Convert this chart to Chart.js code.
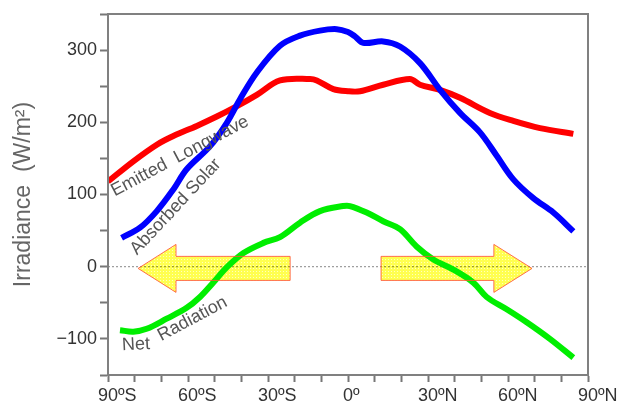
<!DOCTYPE html>
<html>
<head>
<meta charset="utf-8">
<script src="https://cdn.jsdelivr.net/npm/chart.js@4"></script>
<style>
  html, body { margin: 0; padding: 0; background: #fff; }
  #wrap { width: 619px; height: 405px; }
</style>
</head>
<body>
<div id="wrap"><canvas id="c" width="619" height="405"></canvas></div>
<script>
// ---- Data (latitude in degrees, negative = south; values in W/m²) ----
const latLongwave = [-90, -80.5, -71.7, -65.5, -56.7, -49.2, -41.8, -34.2, -25.5, -14.2, -11.7, -5.5, 0, 4.5, 13.2, 23.2, 27, 34.5, 42, 53.2, 62, 72, 84.5];
const valLongwave = [118, 146, 169, 181, 195, 208, 222, 238, 258, 260, 258, 246, 243, 243, 252, 260, 252, 245, 234, 213, 202, 192, 184];

const latSolar = [-84.9, -78, -71.7, -65.5, -60.5, -51.7, -45.5, -40.5, -34.2, -25.5, -18, -10.5, -4.2, 0, 2.6, 5.7, 13.2, 19.5, 27, 34.5, 42, 49.5, 55.7, 62, 69.5, 77, 84.5];
const valSolar = [40, 54, 77, 107, 135, 167, 199, 232, 269, 306, 320, 327, 329, 325, 319, 310, 312, 305, 282, 245, 213, 186, 154, 121, 95, 75, 49];

const latNet = [-85.5, -80.5, -75.5, -68, -60.5, -55.5, -50.5, -45.5, -39.2, -31.7, -25.5, -18, -10.5, -1.8, 0.7, 7, 13.2, 19.5, 25.7, 32, 39.5, 47, 52, 59.5, 67, 75.7, 84.5];
const valNet = [-88, -90, -86, -72, -57, -42, -22, -1, 19, 33, 41, 61, 77, 84, 84, 75, 63, 52, 28, 10, -4, -22, -42, -59, -77, -100, -126];

const seriesNames = ['Emitted  Longwave', 'Absorbed Solar', 'Net Radiation'];
const xTickValues = [-90, -60, -30, 0, 30, 60, 90];
const yTickValues = [-100, 0, 100, 200, 300];

// ---- Annotation layout (data coordinates) ----
const arrows = [
  { tail: -21.7, headBase: -64.5, tip: -78.7 },
  { tail: 12.4, headBase: 54.7, tip: 69.0 }
];
const arrowGeom = { center: -2.4, bodyTop: 14.3, bodyBottom: -19, headTop: 30.9, headBottom: -35.6 };
const curveLabels = [
  { text: 'Emitted  Longwave', lat: -63.0, val: 153, angle: -28 },
  { text: 'Absorbed Solar', lat: -64.6, val: 83, angle: -47 },
  { text: 'Net', lat: -79.5, val: -108, angle: -3 },
  { text: 'Radiation', lat: -58.3, val: -72.3, angle: -28 }
];

function pts(xs, ys) { return xs.map((x, i) => ({ x: x, y: ys[i] })); }

const FONT = '"Liberation Sans", Arial, Helvetica, sans-serif';

const decorPlugin = {
  id: 'decor',
  beforeDatasetsDraw(chart) {
    const { ctx, chartArea, scales } = chart;
    const y0 = scales.y.getPixelForValue(0);
    ctx.save();
    ctx.strokeStyle = '#888';
    ctx.lineWidth = 1;
    ctx.setLineDash([2, 2]);
    ctx.beginPath();
    ctx.moveTo(chartArea.left, y0);
    ctx.lineTo(chartArea.right, y0);
    ctx.stroke();
    ctx.restore();
  },
  afterDatasetsDraw(chart) {
    const { ctx, scales } = chart;
    const X = v => scales.x.getPixelForValue(v);
    const Y = v => scales.y.getPixelForValue(v);

    const pc = document.createElement('canvas');
    pc.width = 3; pc.height = 3;
    const p = pc.getContext('2d');
    p.fillStyle = 'rgb(255,255,80)';
    p.fillRect(0, 0, 3, 3);
    p.fillStyle = 'rgb(255,255,190)';
    p.fillRect(1, 1, 1, 1);
    const pattern = ctx.createPattern(pc, 'repeat');

    arrows.forEach(a => {
      ctx.save();
      ctx.beginPath();
      ctx.moveTo(X(a.tail), Y(arrowGeom.bodyTop));
      ctx.lineTo(X(a.headBase), Y(arrowGeom.bodyTop));
      ctx.lineTo(X(a.headBase), Y(arrowGeom.headTop));
      ctx.lineTo(X(a.tip), Y(arrowGeom.center));
      ctx.lineTo(X(a.headBase), Y(arrowGeom.headBottom));
      ctx.lineTo(X(a.headBase), Y(arrowGeom.bodyBottom));
      ctx.lineTo(X(a.tail), Y(arrowGeom.bodyBottom));
      ctx.closePath();
      ctx.globalCompositeOperation = 'multiply';
      ctx.fillStyle = pattern;
      ctx.fill();
      ctx.globalCompositeOperation = 'source-over';
      ctx.strokeStyle = 'rgba(255,85,55,0.85)';
      ctx.lineWidth = 1;
      ctx.stroke();
      ctx.restore();
    });

    curveLabels.forEach(l => {
      ctx.save();
      ctx.translate(X(l.lat), Y(l.val));
      ctx.rotate(l.angle * Math.PI / 180);
      ctx.font = '18px ' + FONT;
      ctx.fillStyle = '#555';
      ctx.textAlign = 'center';
      ctx.textBaseline = 'middle';
      ctx.fillText(l.text, 0, 0);
      ctx.restore();
    });
  },
  afterDraw(chart) {
    const { ctx, chartArea, scales } = chart;
    ctx.save();
    ctx.strokeStyle = '#808080';
    ctx.lineWidth = 2;
    ctx.strokeRect(chartArea.left, chartArea.top, chartArea.right - chartArea.left, chartArea.bottom - chartArea.top);

    // x tick labels: number centred under its tick, degree sign + hemisphere trailing
    ctx.font = '18px ' + FONT;
    ctx.fillStyle = '#333';
    ctx.textAlign = 'left';
    ctx.textBaseline = 'top';
    xTickValues.forEach(v => {
      const num = String(Math.abs(v));
      const suffix = 'º' + (v < 0 ? 'S' : v > 0 ? 'N' : '');
      const w = ctx.measureText(num).width;
      ctx.fillText(num + suffix, scales.x.getPixelForValue(v) - w / 2, chartArea.bottom + 12);
    });
    ctx.restore();
  }
};

new Chart(document.getElementById('c'), {
  type: 'line',
  data: {
    datasets: [
      { label: seriesNames[0], data: pts(latLongwave, valLongwave), borderColor: '#ff0000', borderWidth: 6, order: 3 },
      { label: seriesNames[1], data: pts(latSolar, valSolar), borderColor: '#0000ff', borderWidth: 6, order: 2 },
      { label: seriesNames[2], data: pts(latNet, valNet), borderColor: '#00ee00', borderWidth: 6, order: 1 }
    ]
  },
  options: {
    responsive: false,
    animation: false,
    devicePixelRatio: 1,
    layout: { padding: { left: 0, right: 31, top: 14, bottom: 0 } },
    elements: {
      point: { radius: 0, hoverRadius: 0 },
      line: { tension: 0.35, fill: false, borderCapStyle: 'butt', borderJoinStyle: 'round' }
    },
    plugins: { legend: { display: false }, tooltip: { enabled: false } },
    scales: {
      x: {
        type: 'linear',
        min: -90, max: 90,
        afterFit(s) { s.height = 30; },
        ticks: {
          stepSize: 10,
          autoSkip: false,
          maxRotation: 0,
          padding: 3,
          color: '#333',
          font: { family: FONT, size: 18 },
          callback: () => ''
        },
        grid: { drawOnChartArea: false, drawTicks: true, tickLength: 7, tickColor: '#777', tickWidth: 2 },
        border: { display: true, color: '#808080', width: 2 }
      },
      y: {
        type: 'linear',
        min: -150, max: 350,
        afterFit(s) { s.width = 108; },
        title: {
          display: true,
          text: 'Irradiance  (W/m²)',
          color: '#666',
          font: { family: FONT, size: 23 },
          padding: { top: 10, bottom: 0 }
        },
        ticks: {
          stepSize: 50,
          autoSkip: false,
          padding: 3,
          color: '#333',
          font: { family: FONT, size: 18 },
          callback: v => yTickValues.includes(v) ? (v < 0 ? '\u2212' + Math.abs(v) : String(v)) : ''
        },
        grid: { drawOnChartArea: false, drawTicks: true, tickLength: 8, tickColor: '#777', tickWidth: 2 },
        border: { display: true, color: '#808080', width: 2 }
      }
    }
  },
  plugins: [decorPlugin]
});
</script>
</body>
</html>
